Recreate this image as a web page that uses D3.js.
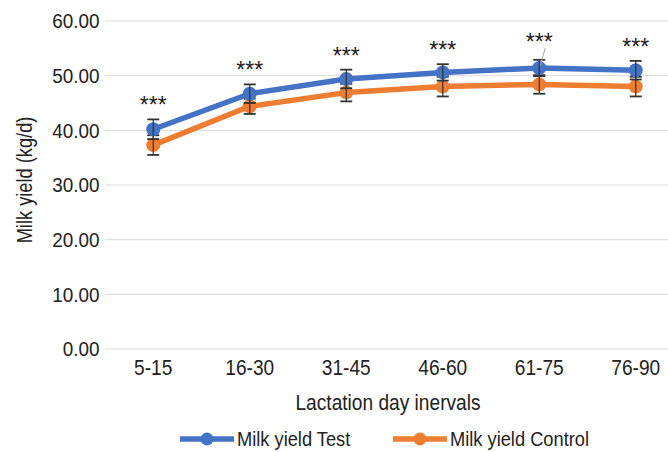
<!DOCTYPE html>
<html>
<head>
<meta charset="utf-8">
<script src="https://cdn.jsdelivr.net/npm/d3@7"></script>
<style>
  body { margin: 0; background: #fff; }
  svg { font-family: "Liberation Sans", Arial, sans-serif; }
</style>
</head>
<body>
<div id="chart"></div>
<script>
// data
var intervals = ["5-15", "16-30", "31-45", "46-60", "61-75", "76-90"];
var testYield = [40.2, 46.7, 49.4, 50.6, 51.4, 51.0];
var testErr = [1.8, 1.7, 1.7, 1.5, 1.5, 1.7];
var controlYield = [37.3, 44.4, 46.9, 48.0, 48.4, 48.0];
var controlErr = [1.8, 1.4, 1.6, 1.8, 1.7, 1.8];
var signif = ["***", "***", "***", "***", "***", "***"];
var yTicks = [0, 10, 20, 30, 40, 50, 60];

var W = 668, H = 452;
var margin = {left: 105, right: -16, top: 21, bottom: 103};
var squeeze = 0.87; // text in the original is a bit condensed

var svg = d3.select("#chart").append("svg")
    .attr("width", W).attr("height", H);

// text placed at (x,y) and narrowed horizontally
function label(x0, y0, str, size, anchor, rot, sx) {
    return svg.append("text")
        .attr("transform", "translate(" + x0 + "," + y0 + ")" + (rot ? " rotate(" + rot + ")" : "") +
              " scale(" + (sx || squeeze) + ",1)")
        .attr("text-anchor", anchor || "start")
        .attr("font-size", size).attr("fill", "#222")
        .text(str);
}

var x = d3.scaleBand()
    .domain(intervals)
    .range([margin.left, W - margin.right]);

var y = d3.scaleLinear()
    .domain([0, 60])
    .range([H - margin.bottom, margin.top]);

// gridlines
svg.append("g").selectAll("line")
    .data(yTicks)
    .enter().append("line")
        .attr("x1", margin.left).attr("x2", W)
        .attr("y1", function(d) { return y(d); })
        .attr("y2", function(d) { return y(d); })
        .attr("stroke", "#d9d9d9").attr("stroke-width", 1);

// y axis labels
var yAxis = d3.axisLeft(y).tickValues(yTicks).tickFormat(d3.format(".2f")).tickSize(0).tickPadding(6);
var gy = svg.append("g").attr("transform", "translate(" + margin.left + ",0)").call(yAxis);
gy.select(".domain").remove();
gy.selectAll("text").attr("font-size", 21).attr("fill", "#222")
    .attr("font-family", "Liberation Sans, Arial, sans-serif")
    .attr("transform", "scale(0.9,1)");

// x axis labels
var xAxis = d3.axisBottom(x).tickSize(0).tickPadding(10);
var gx = svg.append("g").attr("transform", "translate(0," + y(0) + ")").call(xAxis);
gx.select(".domain").remove();
gx.selectAll("text").attr("font-size", 22).attr("fill", "#222")
    .attr("font-family", "Liberation Sans, Arial, sans-serif")
    .attr("transform", "scale(" + squeeze + ",1)");

// axis titles
label(388, 410, "Lactation day inervals", 22, "middle");
label(32, 180, "Milk yield (kg/d)", 22, "middle", -90, 0.83);

var series = [
    {name: "Milk yield Test", vals: testYield, err: testErr, color: "#4472c4"},
    {name: "Milk yield Control", vals: controlYield, err: controlErr, color: "#ed7d31"}
];

function cx(i) { return x(intervals[i]) + x.bandwidth() / 2; }

var line = d3.line()
    .x(function(d, i) { return cx(i); })
    .y(function(d) { return y(d); });

// control drawn first so test sits on top
series.slice().reverse().forEach(function(s) {
    var g = svg.append("g");
    g.append("path")
        .attr("d", line(s.vals))
        .attr("fill", "none").attr("stroke", s.color)
        .attr("stroke-width", 5.5).attr("stroke-linejoin", "round");
    g.selectAll("circle")
        .data(s.vals)
        .enter().append("circle")
            .attr("cx", function(d, i) { return cx(i); })
            .attr("cy", function(d) { return y(d); })
            .attr("r", 7)
            .attr("fill", s.color);
    // error bars
    var eb = g.selectAll("g.eb")
        .data(s.vals)
        .enter().append("g").attr("class", "eb");
    eb.append("line")
        .attr("x1", function(d, i) { return cx(i); })
        .attr("x2", function(d, i) { return cx(i); })
        .attr("y1", function(d, i) { return y(d - s.err[i]); })
        .attr("y2", function(d, i) { return y(d + s.err[i]); })
        .attr("stroke", "#333").attr("stroke-width", 1.2);
    [-1, 1].forEach(function(sign) {
        eb.append("line")
            .attr("x1", function(d, i) { return cx(i) - 6; })
            .attr("x2", function(d, i) { return cx(i) + 6; })
            .attr("y1", function(d, i) { return y(d + sign * s.err[i]); })
            .attr("y2", function(d, i) { return y(d + sign * s.err[i]); })
            .attr("stroke", "#333").attr("stroke-width", 1.8);
    });
});

// significance stars above the test error bars
signif.forEach(function(str, i) {
    var top = y(testYield[i] + testErr[i]);
    var lift = (i === 4) ? 10 : 6;
    label(cx(i), top - lift, str, 23, "middle", 0, 1);
    if (i === 4) {
        // leader line like the original label
        svg.append("line")
            .attr("x1", cx(i) + 6).attr("y1", top - 12)
            .attr("x2", cx(i) + 1).attr("y2", top + 6)
            .attr("stroke", "#aaa").attr("stroke-width", 1);
    }
});

// legend
var legX = [180, 393];
series.forEach(function(s, i) {
    var lg = svg.append("g").attr("transform", "translate(" + legX[i] + ",439)");
    lg.append("line").attr("x1", 0).attr("x2", 54).attr("y1", 0).attr("y2", 0)
        .attr("stroke", s.color).attr("stroke-width", 5.5);
    lg.append("circle").attr("cx", 27).attr("cy", 0).attr("r", 6.5).attr("fill", s.color);
    label(legX[i] + 57, 446, s.name, 21, "start");
});
</script>
</body>
</html>
